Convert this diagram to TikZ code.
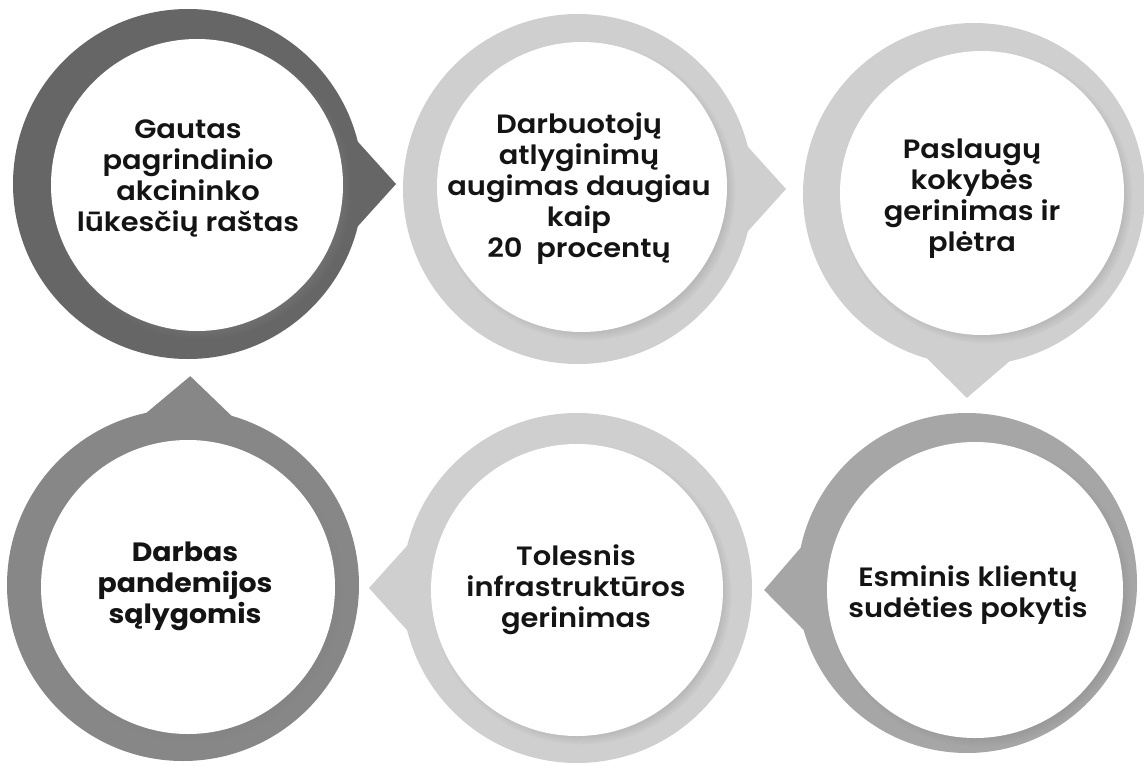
\documentclass[tikz,border=0pt]{standalone}
\usepackage{fontspec}
\setmainfont{Poppins}[UprightFont=* Medium, BoldFont=* SemiBold, FakeStretch=1.09]
\newfontfamily\heavyfont{Poppins}[UprightFont=* Bold, FakeStretch=1.07]
\usetikzlibrary{calc,shadows,fadings}
\newcommand\mybubble[5]{%
  \fill[#5] ($(#1)+(#3+14:#2)$) -- ($(#1)+(#3:#2+33)$) -- ($(#1)+(#3-14:#2)$) -- cycle;
  \fill[#5] (#1) circle (#2);}
\begin{document}
\begin{tikzpicture}[x=1pt,y=-1pt,
  inner/.style={circle, fill=white, inner sep=0pt, minimum size=#1},
  lbl/.style={align=center, font=\fontsize{26.5}{31}\selectfont\bfseries, text=black!92},
  ishadow/.style={circular drop shadow={shadow xshift=4pt, shadow yshift=-4pt, shadow scale=1.03, opacity=#1}},
  ringA/.style={fill=black!60},
  ringB/.style={fill=black!47},
  ringC/.style={fill=black!35},
  ringD/.style={fill=black!19},
]
\useasboundingbox (0,0) rectangle (1144,766);
% outer centres
\coordinate (o1) at (188,184);
\coordinate (o2) at (578,189);
\coordinate (o3) at (974,194);
\coordinate (o4) at (967,583);
\coordinate (o5) at (577,588);
\coordinate (o6) at (183,585);
% bubbles
\mybubble{o1}{175}{0}{}{ringA}
\mybubble{o2}{175}{0}{}{ringD}
\mybubble{o3}{171}{92}{}{ringD}
\mybubble{o4}{170}{178}{}{ringC}
\mybubble{o5}{175}{180}{}{ringD}
\mybubble{o6}{176}{-88}{}{ringB}
% inner white circles
\node[inner=292pt, ishadow=0.8] (c1) at (197,185) {};
\node[inner=290pt, ishadow=0.6] (c2) at (582,187) {};
\node[inner=284pt, ishadow=0.6] (c3) at (982,193) {};
\node[inner=296pt, ishadow=0.7] (c4) at (975,590) {};
\node[inner=292pt, ishadow=0.6] (c5) at (577,590) {};
\node[inner=294pt, ishadow=0.7] (c6) at (188,587) {};
% labels
\node[lbl] (t1) at (188,178) {Gautas\\pagrindinio\\akcininko\\lūkesčių raštas};
\node[lbl] (t2) at (579,189) {Darbuotojų\\atlyginimų\\augimas daugiau\\kaip\\20~ procentų};
\node[lbl] (t3) at (972,199) {Paslaugų\\kokybės\\gerinimas ir\\plėtra};
\node[lbl] (t4) at (968,595) {Esminis klientų\\sudėties pokytis};
\node[lbl] (t5) at (576,590) {Tolesnis\\infrastruktūros\\gerinimas};
\node[lbl, font=\fontsize{26.5}{31}\selectfont\heavyfont] (t6) at (185,586) {Darbas\\pandemijos\\sąlygomis};
\end{tikzpicture}
\end{document}
